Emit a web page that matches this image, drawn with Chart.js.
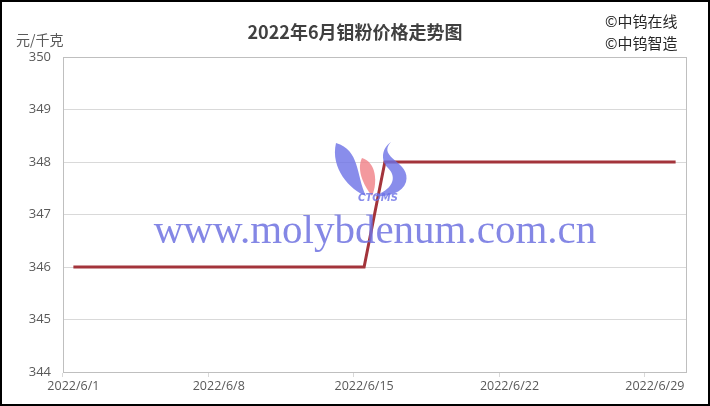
<!DOCTYPE html>
<html>
<head>
<meta charset="utf-8">
<script src="https://cdn.jsdelivr.net/npm/chart.js@4"></script>
<style>
  html, body { margin: 0; padding: 0; background: #fff; }
  #wrap { position: relative; width: 710px; height: 406px; box-sizing: border-box; border: 2px solid #000; overflow: hidden; }
  canvas { display: block; }
</style>
</head>
<body>
<div id="wrap"><canvas id="c" width="706" height="402"></canvas></div>
<script>
const categories = [];
for (let d = 1; d <= 30; d++) categories.push('2022/6/' + d);
const prices = [346,346,346,346,346,346,346,346,346,346,346,346,346,346,346,
                348,348,348,348,348,348,348,348,348,348,348,348,348,348,348];
const yTicks = [344, 345, 346, 347, 348, 349, 350];
const titleText = '2022年6月钼粉价格走势图';
const unitText = '元/千克';
const credits = ['©中钨在线', '©中钨智造'];
const watermark = 'www.molybdenum.com.cn';

const OFF = 2; // canvas offset due to border

const decor = {
  id: 'decor',
  afterDraw(chart) {
    const ctx = chart.ctx;
    const a = chart.chartArea;
    ctx.save();
    // plot border
    ctx.strokeStyle = '#bfbfbf';
    ctx.lineWidth = 1;
    ctx.strokeRect(Math.round(a.left) + 0.5, Math.round(a.top) + 0.5, Math.round(a.right - a.left), Math.round(a.bottom - a.top));
    // title
    ctx.fillStyle = '#404040';
    ctx.font = 'bold 18px "Noto Sans CJK SC"';
    ctx.textAlign = 'center';
    ctx.textBaseline = 'middle';
    ctx.fillText(titleText, 355 - OFF, 32 - OFF);
    // unit
    ctx.fillStyle = '#595959';
    ctx.font = '14px "Noto Sans CJK SC"';
    ctx.textAlign = 'left';
    ctx.fillText(unitText, 16 - OFF, 40 - OFF);
    // credits
    ctx.fillStyle = '#262626';
    ctx.font = '15px "Noto Sans CJK SC"';
    ctx.fillText(credits[0], 605 - OFF, 21 - OFF);
    ctx.fillText(credits[1], 605 - OFF, 43 - OFF);

    // logo
    const P = (x, y) => [x - OFF, y - OFF];
    ctx.globalAlpha = 0.8;
    ctx.fillStyle = '#6b70e6';
    // left swoosh
    ctx.beginPath();
    ctx.moveTo(...P(336, 143));
    ctx.bezierCurveTo(...P(360, 150), ...P(356, 175), ...P(366, 196));
    ctx.bezierCurveTo(...P(350, 190), ...P(330, 168), ...P(336, 143));
    ctx.fill();
    // right swoosh
    ctx.beginPath();
    ctx.moveTo(...P(391, 142));
    ctx.bezierCurveTo(...P(376, 158), ...P(412, 162), ...P(406, 182));
    ctx.bezierCurveTo(...P(402, 194), ...P(386, 197), ...P(374, 196));
    ctx.bezierCurveTo(...P(392, 190), ...P(398, 178), ...P(388, 168));
    ctx.bezierCurveTo(...P(380, 160), ...P(382, 148), ...P(391, 142));
    ctx.fill();
    // central flame
    ctx.fillStyle = '#f07f86';
    ctx.beginPath();
    ctx.moveTo(...P(362, 158));
    ctx.bezierCurveTo(...P(376, 162), ...P(378, 182), ...P(372, 196));
    ctx.bezierCurveTo(...P(364, 186), ...P(356, 170), ...P(362, 158));
    ctx.fill();
    ctx.fillStyle = '#6b70e6';
    ctx.font = 'italic bold 10px "DejaVu Sans"';
    ctx.textAlign = 'center';
    ctx.fillText('CTOMS', 378 - OFF, 198 - OFF);

    // watermark text
    ctx.globalAlpha = 0.85;
    ctx.fillStyle = '#6e72e0';
    ctx.font = '41px "Liberation Serif"';
    ctx.textAlign = 'center';
    ctx.fillText(watermark, 375 - OFF, 232 - OFF);
    ctx.restore();
  }
};

new Chart(document.getElementById('c'), {
  type: 'line',
  data: {
    labels: categories,
    datasets: [{
      data: prices,
      borderColor: '#a3343b',
      borderWidth: 3,
      pointRadius: 0,
      tension: 0,
      fill: false
    }]
  },
  options: {
    responsive: false,
    animation: false,
    events: [],
    layout: { padding: { top: 57 - OFF, right: 710 - 686 - OFF, bottom: 0, left: 0 } },
    plugins: { legend: { display: false }, tooltip: { enabled: false }, title: { display: false } },
    scales: {
      x: {
        type: 'category',
        offset: true,
        grid: {
          offset: true,
          drawOnChartArea: false,
          drawTicks: true,
          tickLength: 5,
          color: (c) => (c.index % 7 === 0 ? '#d9d9d9' : 'rgba(0,0,0,0)')
        },
        border: { display: true, color: '#bfbfbf' },
        ticks: {
          autoSkip: false,
          maxRotation: 0,
          minRotation: 0,
          color: '#595959',
          font: { family: 'Open Sans', size: 12.5 },
          padding: 2,
          callback: function (v, i) { return i % 7 === 0 ? categories[i] : ''; }
        },
        afterFit(s) { s.height = 406 - 372 - OFF; }
      },
      y: {
        min: 344,
        max: 350,
        afterBuildTicks(s) { s.ticks = yTicks.map(v => ({ value: v })); },
        grid: { color: '#d9d9d9', drawTicks: false },
        border: { display: true, color: '#bfbfbf' },
        ticks: {
          color: '#595959',
          font: { family: 'Open Sans', size: 13 },
          padding: 12
        },
        afterFit(s) { s.width = 63 - OFF; }
      }
    }
  },
  plugins: [decor]
});
</script>
</body>
</html>
